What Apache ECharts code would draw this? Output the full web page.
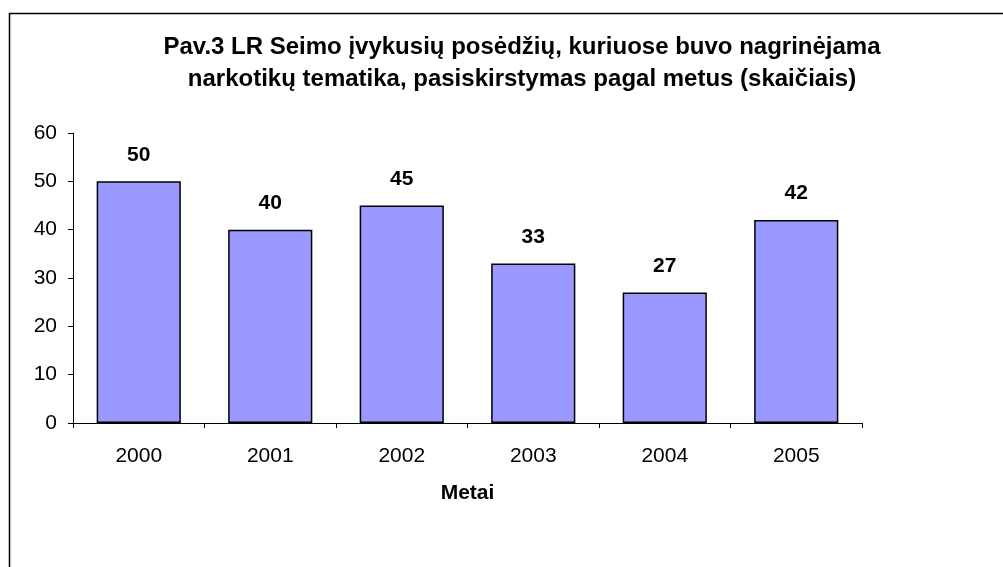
<!DOCTYPE html>
<html>
<head>
<meta charset="utf-8">
<script src="https://cdn.jsdelivr.net/npm/echarts@6/dist/echarts.min.js"></script>
<style>
html, body { margin: 0; padding: 0; background: #fff; }
#chart { width: 1003px; height: 567px; }
</style>
</head>
<body>
<div id="chart"></div>
<script>
var years = ['2000', '2001', '2002', '2003', '2004', '2005'];
var sessions = [50, 40, 45, 33, 27, 42];
var yTicks = [0, 10, 20, 30, 40, 50, 60];

var myChart = echarts.init(document.getElementById('chart'));
myChart.setOption({
    backgroundColor: '#fff',
    textStyle: { fontFamily: 'Liberation Sans, Arial, sans-serif' },
    title: {
        text: 'Pav.3 LR Seimo įvykusių posėdžių, kuriuose buvo nagrinėjama\nnarkotikų tematika, pasiskirstymas pagal metus (skaičiais)',
        left: 517,
        top: 26,
        textAlign: 'center',
        textStyle: { fontSize: 24, fontWeight: 'bold', color: '#000', lineHeight: 32 }
    },
    graphic: [{
        type: 'rect',
        shape: { x: 9.5, y: 13.5, width: 1100, height: 700 },
        style: { fill: 'none', stroke: '#000', lineWidth: 1.5 },
        silent: true
    }],
    grid: { left: 73, right: 141, top: 133, bottom: 144 },
    xAxis: {
        type: 'category',
        data: years,
        name: 'Metai',
        nameLocation: 'middle',
        nameGap: 60,
        nameTextStyle: { fontSize: 21, fontWeight: 'bold', color: '#000' },
        axisLine: { lineStyle: { color: '#000', width: 1 } },
        axisTick: { show: true, alignWithLabel: false, length: 5, lineStyle: { color: '#000' } },
        axisLabel: { fontSize: 21, color: '#000', margin: 23 }
    },
    yAxis: {
        type: 'value',
        min: yTicks[0],
        max: yTicks[yTicks.length - 1],
        interval: 10,
        axisLine: { show: true, lineStyle: { color: '#000', width: 1 } },
        axisTick: { show: true, length: 5, lineStyle: { color: '#000' } },
        axisLabel: { fontSize: 21, color: '#000', margin: 16 },
        splitLine: { show: false }
    },
    series: [{
        type: 'bar',
        data: sessions,
        barCategoryGap: '36%',
        itemStyle: { color: '#9999FF', borderColor: '#000', borderWidth: 1.5 },
        label: {
            show: true,
            position: 'top',
            distance: 16,
            fontSize: 21,
            fontWeight: 'bold',
            color: '#000'
        }
    }]
});
</script>
</body>
</html>
